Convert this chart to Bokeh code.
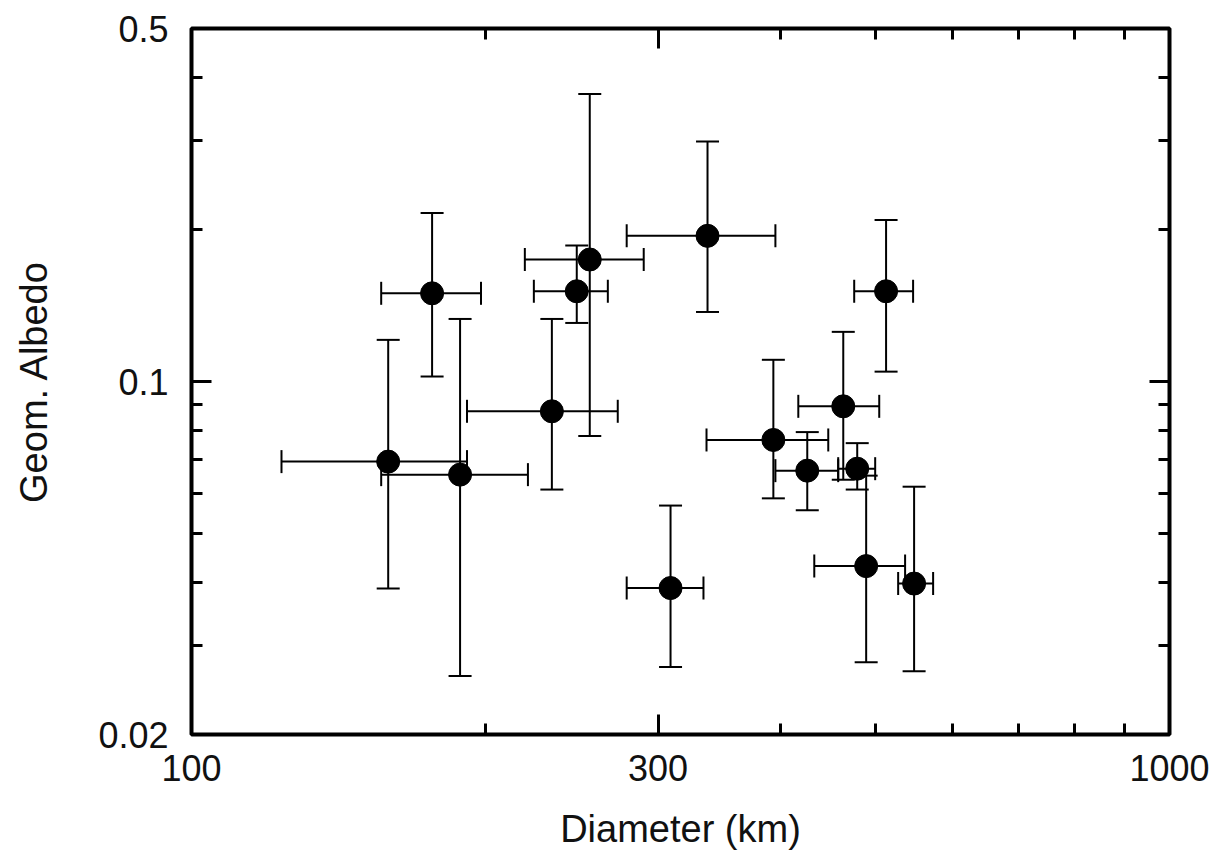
from bokeh.plotting import figure
from bokeh.models import (ColumnDataSource, Range1d, Whisker, TeeHead, FixedTicker,
                          LogAxis, CustomJSTickFormatter)
from bokeh.embed import file_html
from bokeh.resources import INLINE

# ---- data ----
diam = [158.9, 176.2, 188.2, 233.6, 247.7, 255.4, 308.9, 337.0, 393.5, 426.2, 463.9, 479.4, 489.6, 513.1, 548.1]
diam_lo = [123.6, 156.3, 156.3, 191.3, 223.9, 219.2, 278.6, 278.6, 336.2, 395.4, 417.3, 458.4, 433.3, 476.0, 527.9]
diam_hi = [191.3, 197.7, 220.8, 272.8, 266.5, 290.0, 333.8, 395.4, 447.8, 458.4, 504.9, 500.1, 536.6, 546.8, 573.2]
albedo = [0.0694, 0.1495, 0.0654, 0.0873, 0.1509, 0.1744, 0.0390, 0.1943, 0.0766, 0.0666, 0.0893, 0.0672, 0.0431, 0.1509, 0.0398]
alb_lo = [0.0389, 0.1023, 0.0261, 0.0611, 0.1306, 0.0780, 0.0272, 0.1373, 0.0587, 0.0556, 0.0639, 0.0611, 0.0278, 0.1046, 0.0267]
alb_hi = [0.1209, 0.2157, 0.1330, 0.1330, 0.1858, 0.3710, 0.0568, 0.2986, 0.1104, 0.0794, 0.1254, 0.0755, 0.0651, 0.2089, 0.0619]

x_major = [100, 300, 1000]
x_minor = [200, 400, 500, 600, 700, 800, 900]
y_major = [0.02, 0.1, 0.5]
y_minor = [0.03, 0.04, 0.05, 0.06, 0.07, 0.08, 0.09, 0.2, 0.3, 0.4]

FONT = "Liberation Sans"
TXT = "#111111"

src = ColumnDataSource(dict(diam=diam, diam_lo=diam_lo, diam_hi=diam_hi,
                            albedo=albedo, alb_lo=alb_lo, alb_hi=alb_hi))

p = figure(width=1218, height=852, x_axis_type="log", y_axis_type="log",
           x_range=Range1d(100, 1000), y_range=Range1d(0.02, 0.5),
           output_backend="svg", toolbar_location=None,
           min_border_left=191, min_border_right=49, min_border_top=28, min_border_bottom=117)
p.background_fill_color = "white"
p.border_fill_color = "white"
p.xgrid.visible = False
p.ygrid.visible = False
p.outline_line_color = "black"
p.outline_line_width = 4

fmt = CustomJSTickFormatter(code="return tick.toString();")

def style(ax, labels=True):
    ax.axis_line_color = None
    ax.major_tick_in = 20
    ax.major_tick_out = 0
    ax.minor_tick_in = 11
    ax.minor_tick_out = 0
    ax.major_tick_line_width = 3
    ax.minor_tick_line_width = 3
    ax.major_tick_line_color = "black"
    ax.minor_tick_line_color = "black"
    ax.major_label_text_font = FONT
    ax.major_label_text_font_size = "36px"
    ax.major_label_text_color = TXT
    ax.axis_label_text_font = FONT
    ax.axis_label_text_font_size = "38px"
    ax.axis_label_text_font_style = "normal"
    ax.axis_label_text_color = TXT
    ax.formatter = fmt
    if not labels:
        ax.major_label_text_alpha = 0

xt = FixedTicker(ticks=x_major, minor_ticks=x_minor)
yt = FixedTicker(ticks=y_major, minor_ticks=y_minor)

p.xaxis.ticker = xt
p.yaxis.ticker = yt
for ax in p.xaxis:
    style(ax)
    ax.axis_label = "Diameter (km)"
    ax.major_label_standoff = 20
    ax.axis_label_standoff = 24
for ax in p.yaxis:
    style(ax)
    ax.axis_label = "Geom. Albedo"
    ax.major_label_standoff = 23
    ax.axis_label_standoff = 40

top = LogAxis(ticker=xt)
style(top, labels=False)
top.major_label_text_font_size = "0px"
right = LogAxis(ticker=yt)
style(right, labels=False)
right.major_label_text_font_size = "0px"
p.add_layout(top, "above")
p.add_layout(right, "right")

yerr = Whisker(source=src, base="diam", upper="alb_hi", lower="alb_lo", dimension="height",
               line_color="black", line_width=2, level="underlay",
               upper_head=TeeHead(size=23, line_width=2, line_color="black"),
               lower_head=TeeHead(size=23, line_width=2, line_color="black"))
xerr = Whisker(source=src, base="albedo", upper="diam_hi", lower="diam_lo", dimension="width",
               line_color="black", line_width=2, level="underlay",
               upper_head=TeeHead(size=23, line_width=2, line_color="black"),
               lower_head=TeeHead(size=23, line_width=2, line_color="black"))
p.add_layout(yerr)
p.add_layout(xerr)

p.scatter("diam", "albedo", source=src, size=23, color="black")

open("out.html", "w").write(file_html(p, INLINE))
